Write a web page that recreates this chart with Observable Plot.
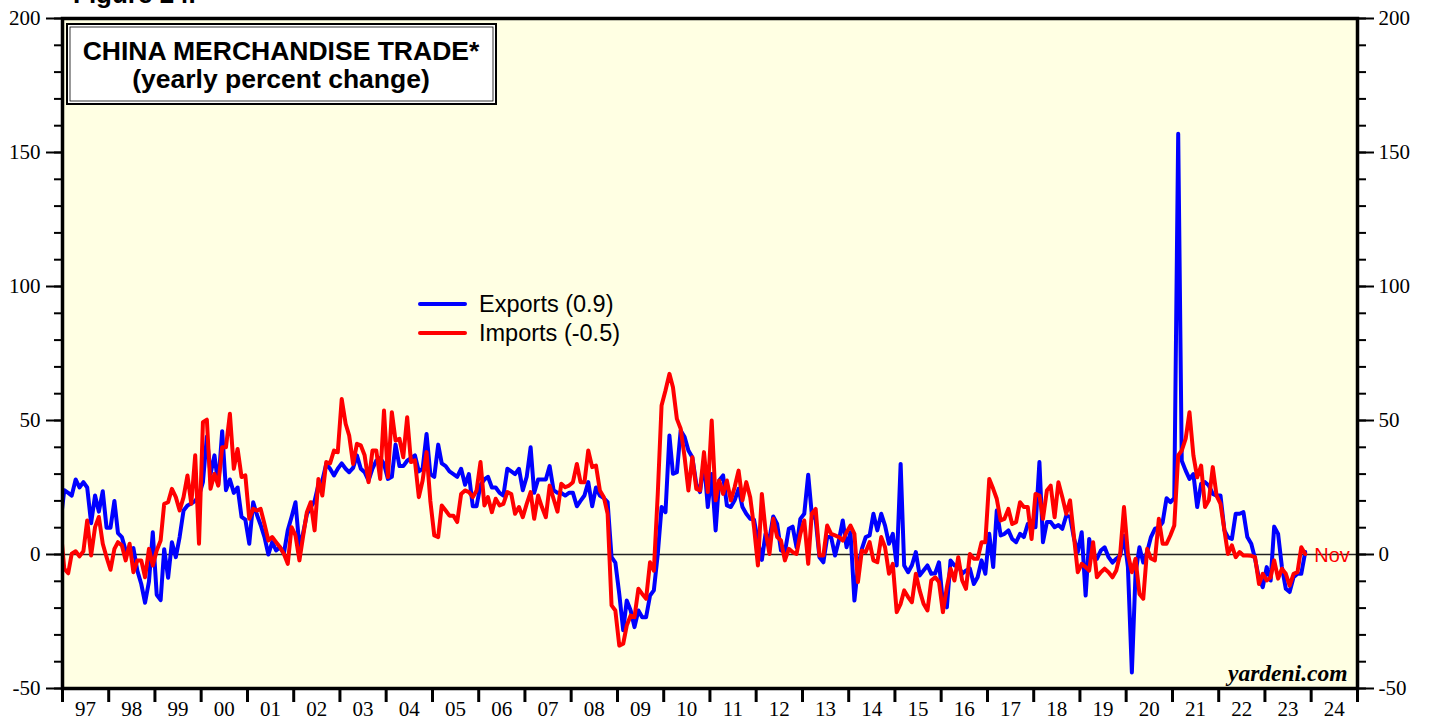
<!DOCTYPE html>
<html><head><meta charset="utf-8">
<script src="https://cdn.jsdelivr.net/npm/d3@7"></script>
<script src="https://cdn.jsdelivr.net/npm/@observablehq/plot@0.6"></script>
<style>
html,body{margin:0;padding:0;background:#fff;}
#chart{position:relative;width:1429px;height:721px;overflow:hidden;}
</style></head><body><div id="chart"></div>
<script>
// Monthly values, first entry = Dec 1996 (clipped by the frame), last = Nov 2023
const exportsYoY = [
  11.6,
  24, 23, 22, 28, 25, 27, 25, 11.7, 22, 16, 23.6, 10,
  10, 20, 8, 6.5, 1.5, 2, 2.4, -6, -11, -18, -10, 8.3,
  -15, -17, 2, -8.7, 4.6, -1, 6.5, 16.4, 18.3, 19, 20, 22,
  27, 44, 30, 37, 26, 46, 24, 28, 23, 25, 14, 13,
  4, 19.5, 15, 11, 6.5, 0, 4.6, 1.5, 2.7, 0.3, 9, 14,
  19.5, 2.7, 7.7, 15, 17.7, 20, 26, 27.6, 33.8, 32, 29.5, 32,
  34, 32, 30.7, 32.3, 37, 32, 30.7, 27.6, 32, 35, 36, 33.8,
  28.2, 29, 41, 33, 33, 35, 36, 37, 31, 32, 45, 30,
  29, 41, 34, 33, 31, 30, 29, 32, 26, 30, 18, 18,
  26, 28, 29, 25, 25, 23, 22, 32, 31, 30, 32, 24,
  29, 40, 23, 28, 28, 28, 33, 24, 23, 23, 22, 23,
  23, 18, 20, 22, 27, 18, 25, 22, 21, 19.5, -1, -3,
  -14.7, -28.3, -17.2, -20.9, -27.1, -20.9, -23.4, -23.4, -15.3, -13.4, 0.2, 17.7,
  15.8, 44.4, 30.1, 30.7, 46.3, 43.8, 38.8, 36.3, 26.4, 23.3, 35, 17.7,
  30, 9, 27.6, 29.5, 18.3, 17.7, 20.2, 24.5, 17.7, 15.2, 13.3, 13,
  5, -2, 7.7, 5.8, 14.2, 11.4, 1.5, 0.9, 9.6, 10.4, 2.7, 13.3,
  15.2, 29.8, 15.2, 13, -1, -2.9, 6.5, 6.5, -0.4, 5.2, 12.7, 2.7,
  8.3, -17.2, -4.7, 2.1, 6.5, 7.1, 15.2, 9, 15.2, 10.8, 4, 7.7,
  -4.1, 33.8, -4.1, -6.6, -4, 0.9, -7.8, -6, -4.1, -7.2, -7, -2.9,
  -18.4, -19.7, -2.2, -4.1, -4, -7.2, -6, -5.3, -11, -8.5, -2.2, -7.2,
  7.7, -4.7, 16.4, 7.1, 7.7, 9, 5.8, 4.6, 7.7, 6.5, 11.4, 10.2,
  10.2, 34.5, 4.6, 12.1, 12.1, 10.2, 11, 9.6, 14.5, 14, 6, 0.9,
  8.3, -15.3, 5.8, -1, -1.6, 1.5, 2.7, -1, -3, -1.6, -0.4, 7,
  -4.7, -44, -7.2, 2.7, -3, 1, 6.5, 9.6, 10, 12, 21, 19.5,
  21, 157, 35, 31.3, 28.2, 30, 17.7, 26.4, 27, 25.7, 22.6, 22,
  22, 9, 6.5, 5.8, 15.2, 15.2, 15.8, 6.5, 4, -1.6, -9, -12.2,
  -4.7, -9.7, 10.4, 7.7, -4.7, -12.8, -14, -8.5, -7.2, -7.2, 0.9
];
const importsYoY = [
  10.8,
  -5.3, -7, 0.3, 1.2, -0.7, 1.2, 12.7, -0.4, 10.2, 14, 4, -1,
  -5.7, 2.1, 4.6, 3.4, -2.2, 4, -6.6, -2.2, -2.2, -8.5, 2.1, -4.1,
  1.5, 5.2, 18.9, 19.5, 24.5, 21.4, 16.4, 21.4, 29.5, 18.9, 37, 4,
  49.4, 50.3, 24.5, 30.1, 25.7, 40, 40, 52.5, 32, 39.4, 28.9, 29.5,
  13.3, 17, 16.4, 17, 11.4, 5.2, 6.5, 4.6, 2.7, 0.3, -3.5, 10.2,
  7.1, -2.2, 6.5, 15.8, 19.5, 9, 28.2, 22, 34.5, 34, 38.8, 38.2,
  58, 48.8, 44.4, 33.8, 41.3, 40.7, 37, 27, 38.8, 38.8, 28.2, 53.7,
  28.9, 53.1, 42.5, 43.2, 36.3, 51.2, 34.5, 35.1, 21.4, 27.6, 38.2, 20,
  7.1, 6.5, 18.3, 16.4, 14.5, 14.5, 12.1, 22.6, 23.9, 23.3, 21.4, 23.9,
  34.5, 18.3, 21.4, 15.8, 20.8, 18.3, 18.9, 23.3, 22.6, 15.2, 17.7, 13.9,
  18.9, 23.3, 13.3, 22, 17.7, 13.9, 25.7, 20.8, 16, 26.4, 25.1, 25.7,
  27, 33.8, 27, 27, 38.8, 32.6, 33.2, 23.9, 21.4, 15.2, -19, -20.9,
  -34, -33.3, -26.5, -22.8, -23.4, -12.8, -14.7, -16.5, -2.9, -6, 22.6, 55.6,
  61.2, 67.4, 62.4, 50.6, 46.9, 36.3, 23.9, 36.3, 24.5, 23.9, 38.2, 23.3,
  50, 20.2, 27.6, 22.6, 27.6, 20.2, 25.1, 31.3, 20.2, 27, 21.4, 10.2,
  -4.1, 22.6, 9, 0.2, 13.3, 6.5, 5.2, -2.2, 2.1, 0.9, 0.2, 7.7,
  12.7, -3.5, 15.2, 17, -0.4, -0.4, 10.8, 7.7, 7.1, 6.5, 5.2, 8.3,
  10.8, 7.7, -10.3, 1.5, 0.9, 4.6, -2.2, -2.9, 6.5, 2.7, -7.2, -3.5,
  -21.5, -18.4, -13.4, -15.9, -17.8, -7.2, -13.4, -18.4, -20.9, -9.7, -8.5, -10.3,
  -21.5, -12.2, -5.3, -9.7, -1, -9.7, -12.8, 0.2, -1.6, -1.6, 4.6, 4.6,
  28.2, 24.5, 20.8, 12.7, 13.3, 17, 11.4, 12.1, 19.5, 17.7, 17.7, 5.8,
  22.6, 22, 13.3, 23.9, 25.7, 13.9, 27, 21.4, 15.2, 20.2, 6.5, -6.6,
  -3.5, -4.7, -6, 4.6, -8.5, -6.6, -5.3, -6.6, -8.5, -6, 0.2, 17.7,
  0.2, -6.6, -1.6, -14.7, -16.5, 2.1, -1.5, -2.2, 13.3, 4, 4, 7.1,
  10.8, 37, 38.8, 43.2, 53.1, 37, 28.8, 33.2, 17.7, 20.2, 32.6, 22,
  18.9, 9, 0.2, 3.4, -1, 0.9, -0.4, -0.4, -0.5, -1, -11, -7.2,
  -9.7, -8.5, -2.2, -9, -5.3, -7.2, -11.6, -7.2, -6.6, 2.7, 0.2
];
const yearLabels = ["97","98","99","00","01","02","03","04","05","06","07","08","09","10","11","12","13","14","15","16","17","18","19","20","21","22","23","24"];
const yMajorTicks = [-50, 0, 50, 100, 150, 200];
const yMajorLabels = ["-50", "0", "50", "100", "150", "200"];
const yMinorTicks = [-50,-40,-30,-20,-10,0,10,20,30,40,50,60,70,80,90,100,110,120,130,140,150,160,170,180,190,200];
const seriesNames = ["Exports (0.9)", "Imports (-0.5)"];
const seriesColors = ["#0000FF", "#FF0000"];
const titleLines = ["CHINA MERCHANDISE TRADE*", "(yearly percent change)"];
const lastMonthLabel = "Nov";
const sourceLabel = "yardeni.com";
const figureLabel = "Figure 24.";
const firstYear = 1997, lastYear = 2025;

const toRows = (vals) => vals.map((v, i) => ({date: new Date(Date.UTC(1996, 11 + i, 15)), value: v}));
const expRows = toRows(exportsYoY);
const impRows = toRows(importsYoY);
const yearStarts = d3.range(firstYear, lastYear + 1).map(y => new Date(Date.UTC(y, 0, 1)));
const yearMids = yearLabels.map((_, i) => new Date(Date.UTC(firstYear + i, 6, 2)));
const serif = "'Liberation Serif','Times New Roman',serif";
const sans = "'Liberation Sans',Arial,Helvetica,sans-serif";

const chart = Plot.plot({
  width: 1429, height: 721,
  marginLeft: 62, marginRight: 72, marginTop: 18, marginBottom: 33,
  style: {fontFamily: serif, fontSize: "21px", background: "#fff", color: "#000", overflow: "hidden"},
  x: {type: "utc", domain: [yearStarts[0], yearStarts[yearStarts.length - 1]], axis: null},
  y: {domain: [-50, 200], axis: null},
  marks: [
    Plot.frame({fill: "#FFFFE3", stroke: null}),
    Plot.ruleY([0], {stroke: "#222", strokeWidth: 1.6}),
    Plot.line(expRows, {x: "date", y: "value", stroke: seriesColors[0], strokeWidth: 4, clip: true}),
    Plot.line(impRows, {x: "date", y: "value", stroke: seriesColors[1], strokeWidth: 4, clip: true}),
    Plot.text([impRows[impRows.length - 1]], {x: "date", y: "value", text: () => lastMonthLabel, dx: 9, dy: 2,
      textAnchor: "start", fill: seriesColors[1], fontFamily: sans, fontSize: 20}),
    Plot.text([sourceLabel], {frameAnchor: "bottom-right", dx: -10, dy: -8, lineAnchor: "bottom", textAnchor: "end",
      fontFamily: serif, fontWeight: "bold", fontStyle: "italic", fontSize: 23.5}),
    Plot.frame({stroke: "#000", strokeWidth: 3.5}),
    Plot.axisY(yMinorTicks, {anchor: "left", tickSize: 8, tickFormat: () => "", strokeWidth: 2, label: null}),
    Plot.axisY(yMinorTicks, {anchor: "right", tickSize: 8, tickFormat: () => "", strokeWidth: 2, label: null}),
    Plot.axisY(yMajorTicks, {anchor: "left", tickSize: 16, tickPadding: 6, strokeWidth: 2, label: null,
      tickFormat: (d) => yMajorLabels[yMajorTicks.indexOf(d)]}),
    Plot.axisY(yMajorTicks, {anchor: "right", tickSize: 16, tickPadding: 5, strokeWidth: 2, label: null,
      tickFormat: (d) => yMajorLabels[yMajorTicks.indexOf(d)]}),
    Plot.axisX(yearStarts, {anchor: "bottom", tickSize: 14, tickFormat: () => "", strokeWidth: 3, label: null}),
    Plot.axisX(yearMids, {anchor: "bottom", tickSize: 0, tickPadding: 13, label: null,
      tickFormat: (d) => yearLabels[d.getUTCFullYear() - firstYear]})
  ]
});
document.getElementById("chart").appendChild(chart);

// Annotations: figure label, title box, legend
const svg = d3.select(chart);
const ann = svg.append("g").attr("text-anchor", "start");
ann.append("text").attr("x", 73).attr("y", 3).attr("text-anchor", "start").attr("font-family", sans)
  .attr("font-weight", "bold").attr("font-size", 26).attr("fill", "#000").text(figureLabel);
ann.append("rect").attr("x", 67).attr("y", 24).attr("width", 429).attr("height", 80)
  .attr("fill", "#fff").attr("stroke", "#000").attr("stroke-width", 2);
ann.append("rect").attr("x", 70).attr("y", 27).attr("width", 423).attr("height", 74)
  .attr("fill", "none").attr("stroke", "#000").attr("stroke-width", 0.8);
titleLines.forEach((t, i) => {
  ann.append("text").attr("x", 281).attr("y", 60 + i * 28).attr("text-anchor", "middle")
    .attr("font-family", sans).attr("font-weight", "bold").attr("font-size", 26.5).attr("fill", "#000").text(t);
});
seriesNames.forEach((name, i) => {
  const y = 304 + i * 29;
  ann.append("line").attr("x1", 420).attr("x2", 465).attr("y1", y).attr("y2", y)
    .attr("stroke", seriesColors[i]).attr("stroke-width", 4).attr("stroke-linecap", "round");
  ann.append("text").attr("x", 479).attr("y", y + 8).attr("text-anchor", "start").attr("font-family", sans)
    .attr("font-size", 23.5).attr("fill", "#000").text(name);
});
</script></body></html>
